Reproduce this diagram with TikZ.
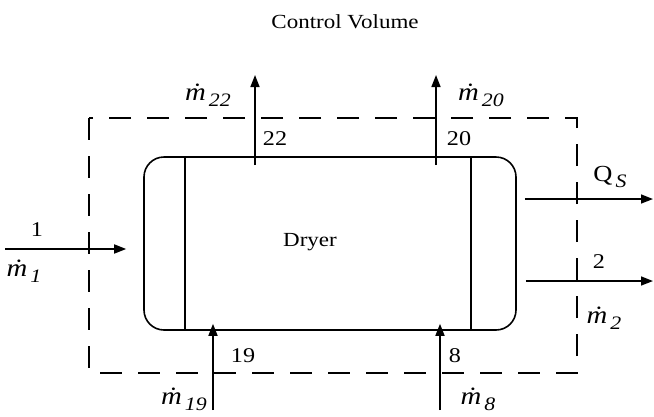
\documentclass[tikz,border=0pt]{standalone}
\usepackage{fontspec}
\setmainfont{Liberation Serif}[FakeStretch=1.15]
\usepackage{tikz}
\usetikzlibrary{arrows.meta,positioning,calc}

% mass flow label: m with a dot over it and a lowered index
\newcommand{\mflow}[1]{{\fontsize{25}{25}\selectfont\itshape ṁ}\hspace{3pt}\raisebox{-0.3em}{\fontsize{19}{19}\selectfont\itshape #1}}

\begin{document}
\begin{tikzpicture}[x=1pt, y=-1pt,
    every node/.style={font=\fontsize{21}{23}\selectfont, inner sep=0pt},
    flow/.style={line width=1.6pt, -{Triangle[length=12pt,width=9pt]}},
    cvline/.style={line width=1.6pt, dash pattern=on 22pt off 16pt},
    unitbox/.style={draw, line width=1.6pt, rounded corners=20pt,
      minimum width=372pt, minimum height=173pt}]
        \useasboundingbox (0,0) rectangle (654,416);
        % Control volume
        \node[font=\fontsize{20}{22}\selectfont] (title) at (345,22) {Control Volume};
        \draw[cvline] (89,118) rectangle (577,373);
        % Dryer
        \node[unitbox] (dryer) at (330,243.5) {};
        \node[font=\fontsize{20}{22}\selectfont] (dryertxt) at (310,242) {Dryer};
        \draw[line width=1.6pt] ([xshift=42pt]dryer.north west) -- ([xshift=42pt]dryer.south west);
        \draw[line width=1.6pt] ([xshift=-46pt]dryer.north east) -- ([xshift=-46pt]dryer.south east);
        % Free ends of the streams
        \coordinate (s1) at (5,249);
        \coordinate (s22) at (255,75);
        \coordinate (s20) at (436,75);
        \coordinate (sQ) at (653,199);
        \coordinate (s2) at (653,281);
        \coordinate (s19) at (213,410);
        \coordinate (s8) at (440,410);
        % Streams
        \draw[flow] (s1) -- ([xshift=-17pt]dryer.west |- s1);
        \draw[flow] ([yshift=-9pt]dryer.north -| s22) -- (s22);
        \draw[flow] ([yshift=-9pt]dryer.north -| s20) -- (s20);
        \draw[flow] ([xshift=8pt]dryer.east |- sQ) -- (sQ);
        \draw[flow] ([xshift=9pt]dryer.east |- s2) -- (s2);
        \draw[flow] (s19) -- ([yshift=7pt]dryer.south -| s19);
        \draw[flow] (s8) -- ([yshift=7pt]dryer.south -| s8);
        % Labels
        \node (n1) at (37,230) {1};
        \node (m1) at (24,271) {\mflow{1}};
        \node (n22) at (275,139) {22};
        \node (m22) at (208,95) {\mflow{22}};
        \node (n20) at (459,139) {20};
        \node (m20) at (481,95) {\mflow{20}};
        \node (qs) at (610,177) {{\fontsize{23}{23}\selectfont Q}\hspace{3pt}\raisebox{-0.3em}{\fontsize{19}{19}\selectfont\itshape S}};
        \node (n2) at (599,262) {2};
        \node (m2) at (604,318) {\mflow{2}};
        \node (n19) at (243,356) {19};
        \node (m19) at (184,399) {\mflow{19}};
        \node (n8) at (455,356) {8};
        \node (m8) at (478,399) {\mflow{8}};
      \end{tikzpicture}
\end{document}
